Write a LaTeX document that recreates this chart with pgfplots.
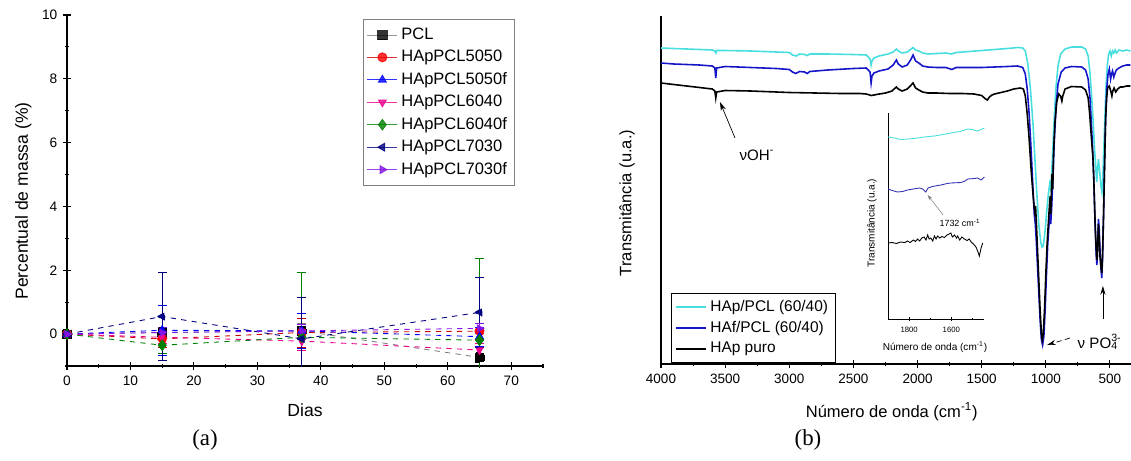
\documentclass[border=0pt]{standalone}
\usepackage{fontspec}
\setmainfont{Liberation Sans}
\newfontfamily\serifed{Liberation Serif}
\usepackage{pgfplots}
\pgfplotsset{compat=1.18}
\usetikzlibrary{arrows.meta}

\definecolor{cyanline}{RGB}{72,222,222}
\definecolor{blueline}{RGB}{20,20,200}
\definecolor{navyc}{RGB}{0,0,128}
\definecolor{violetc}{RGB}{130,20,230}
\definecolor{greenc}{RGB}{0,128,0}

\pgfplotsset{
  origin/.style={scale only axis, axis x line=bottom, axis y line=left,
    axis line style={-, line width=0.8pt}, tick align=center,
    major tick length=4pt, minor tick length=2.5pt,
    tick style={line width=0.6pt, black},
    /pgf/number format/assume math mode=true,
    /pgf/number format/1000 sep={}},
  errs/.style={error bars/.cd, y dir=both, y explicit,
    error mark=-,
    error bar style={line width=0.4pt, solid},
    error mark options={rotate=90, mark size=2.5pt, line width=0.4pt, solid}},
  ser/.style={#1, dashed, line width=0.5pt, mark size=2.6pt,
    mark options={solid, fill=#1, draw=#1}},
}

\begin{document}
\begin{tikzpicture}
\useasboundingbox (0,0) rectangle (22.62cm,9.2cm);

% ---------------- (a) ----------------
\begin{axis}[origin, at={(1.34cm,1.88cm)}, anchor=south west,
  width=9.52cm, height=7.02cm,
  xmin=0, xmax=75, ymin=-1, ymax=10,
  xtick={0,10,...,70}, minor xtick={5,15,...,75},
  ytick={0,2,...,10}, minor ytick={-1,1,...,9},
  tick label style={font=\fontsize{7.8}{9}\selectfont},
  xlabel={Dias}, ylabel={Percentual de massa (\%)},
  label style={font=\fontsize{10}{12}\selectfont},
  xlabel style={at={(axis description cs:0.5,-0.125)}, anchor=center},
  ylabel style={at={(axis description cs:-0.092,0.47)}, anchor=center},
  legend style={at={(0.622,0.989)}, anchor=north west, draw=gray,
    font=\fontsize{9.4}{11.6}\selectfont, row sep=0.6pt,
    inner xsep=2pt, inner ysep=3pt},
  legend cell align=left, legend image post style={solid, opacity=0.8},
]
\addplot[ser=gray, mark=square*, mark options={fill=black, draw=black}, errs]
  coordinates {(0,0) +- (0,0.08) (15,0.05) +- (0,0.15) (37,0.1) +- (0,0.25) (65,-0.73) +- (0,0.3)};
\addlegendentry{PCL}
\addplot[ser=red!80!black, mark=*, mark options={fill=red, draw=red}, errs]
  coordinates {(0,0) +- (0,0.05) (15,-0.15) +- (0,0.25) (37,0.05) +- (0,0.45) (65,0.09) +- (0,0.25)};
\addlegendentry{HApPCL5050}
\addplot[ser=blue, mark=triangle*, errs]
  coordinates {(0,0) +- (0,0.05) (15,0.12) +- (0,0.78) (37,0.1) +- (0,0.55) (65,-0.08) +- (0,0.3)};
\addlegendentry{HApPCL5050f}
\addplot[ser=magenta, mark=triangle*, mark options={rotate=180}, errs]
  coordinates {(0,0) +- (0,0.05) (15,-0.1) +- (0,0.2) (37,-0.22) +- (0,0.3) (65,-0.5) +- (0,0.2)};
\addlegendentry{HApPCL6040}
\addplot[ser=greenc, mark=diamond*, mark size=3pt, errs]
  coordinates {(0,0) +- (0,0.05) (15,-0.35) +- (0,0.25) (37,-0.1) +- (0,2.03) (65,-0.19) +- (0,2.55)};
\addlegendentry{HApPCL6040f}
\addplot[ser=navyc, mark=triangle*, mark options={rotate=90}, errs]
  coordinates {(0,0) +- (0,0.05) (15,0.55) +- (0,1.38) (37,-0.15) +- (0,1.3) (65,0.68) +- (0,1.1)};
\addlegendentry{HApPCL7030}
\addplot[ser=violetc, mark=triangle*, mark options={rotate=-90}, errs]
  coordinates {(0,0) +- (0,0.05) (15,0.05) +- (0,0.15) (37,0.1) +- (0,0.2) (65,0.18) +- (0,0.15)};
\addlegendentry{HApPCL7030f}
\end{axis}

% ---------------- (b) ----------------
\begin{axis}[origin, at={(13.22cm,1.92cm)}, anchor=south west,
  width=9.4cm, height=6.96cm,
  x dir=reverse, xmin=336, xmax=4000, ymin=0, ymax=348,
  xtick={500,1000,...,4000}, minor x tick num=1, ytick=\empty,
  tick label style={font=\fontsize{7.7}{9}\selectfont},
  xlabel={Número de onda (cm\textsuperscript{-1})}, ylabel={Transmitância (u.a.)},
  label style={font=\fontsize{9.4}{11}\selectfont},
  xlabel style={at={(axis description cs:0.491,-0.138)}, anchor=center},
  ylabel style={at={(axis description cs:-0.072,0.463)}, anchor=center},
  legend style={at={(0.021,0.204)}, anchor=north west, draw=black,
    font=\fontsize{8.8}{10.4}\selectfont, inner xsep=2pt, inner ysep=2pt},
  legend cell align=left, legend image post style={line width=1.2pt},
  clip=false,
]
\addplot[cyanline, line width=0.9pt] coordinates {
(4000,316)(3900,315.5)(3800,315)(3700,314.5)(3600,314)(3580,313)(3572,311)(3565,313.5)(3500,313.5)(3300,313)(3100,312)(3000,311.5)(2975,309)(2945,308)(2920,310)(2880,309.5)(2860,308.5)(2840,310)(2700,310)(2500,309.5)(2400,309)(2370,305)(2362,299)(2355,303)(2340,306)(2300,308)(2230,310)(2190,312)(2165,315)(2150,313)(2120,311)(2080,312)(2050,315)(2035,316.5)(2015,314)(1990,313)(1960,311)(1920,310)(1850,310.5)(1780,311)(1735,310)(1700,311.5)(1600,312.5)(1500,313.5)(1400,314.5)(1300,315.5)(1220,316.5)(1180,316)(1160,313)(1140,300)(1120,275)(1100,240)(1085,205)(1070,170)(1055,140)(1040,122)(1030,117)(1020,118)(1008,130)(995,150)(982,168)(970,180)(962,175)(955,190)(945,215)(935,245)(922,275)(905,298)(885,310)(850,315)(800,317)(720,317)(690,315)(670,308)(655,290)(640,262)(630,240)(620,215)(610,195)(603,182)(597,195)(590,205)(580,192)(570,178)(563,172)(556,185)(548,215)(540,245)(530,280)(520,300)(510,310)(500,313)(490,308)(480,313)(470,311)(460,314)(450,311)(430,314)(400,313)(370,314)(340,313)};
\addlegendentry{HAp/PCL (60/40)}
\addplot[blueline, line width=0.9pt] coordinates {
(4000,301)(3900,300)(3800,299.5)(3700,299)(3600,298)(3580,296)(3573,286)(3566,296)(3500,297.5)(3300,296.5)(3100,295.5)(3000,294.5)(2975,292)(2950,290.5)(2920,292.5)(2880,292)(2860,290.5)(2840,292.5)(2700,294)(2500,295.5)(2400,296)(2370,292)(2362,281)(2355,288)(2340,291)(2300,293)(2230,295)(2190,299)(2165,304)(2150,300)(2120,297)(2080,299)(2050,305)(2035,309)(2015,303)(1990,301)(1960,298)(1920,297)(1850,296.5)(1780,296.5)(1732,294.5)(1700,296.5)(1600,296.5)(1500,296.5)(1400,297)(1300,297.5)(1220,298)(1180,296.5)(1160,290)(1145,275)(1130,250)(1115,215)(1100,175)(1090,150)(1082,140)(1075,125)(1060,85)(1045,45)(1035,25)(1025,19)(1015,28)(1005,55)(995,90)(985,120)(975,140)(968,148)(962,140)(955,155)(945,185)(935,220)(920,258)(905,280)(880,292)(850,296)(800,297.5)(720,297)(690,294)(670,285)(655,265)(645,240)(635,215)(625,180)(615,135)(607,108)(602,99)(597,115)(590,145)(584,135)(577,112)(570,95)(564,86)(558,105)(550,150)(542,200)(534,245)(525,275)(515,290)(505,295)(495,285)(488,290)(480,293)(470,287)(460,291)(450,294)(430,296)(400,298)(370,299)(340,299)};
\addlegendentry{HAf/PCL (60/40)}
\addplot[black, line width=0.9pt] coordinates {
(4000,281)(3900,279.5)(3800,278)(3700,276.5)(3600,275)(3580,273)(3573,266)(3566,272)(3500,273.5)(3300,273)(3100,272)(3000,271.5)(2800,271)(2600,270.5)(2450,270.5)(2400,270)(2360,268.5)(2320,269.5)(2250,271)(2200,273)(2165,277)(2150,275)(2120,273)(2080,275)(2050,279)(2035,281)(2015,276)(1990,274)(1960,272)(1920,271)(1850,271)(1750,270.5)(1650,270.5)(1560,270)(1500,268.5)(1470,265)(1455,264)(1440,267)(1420,269)(1400,270)(1350,271.5)(1300,273)(1250,275)(1200,276)(1175,275)(1160,268)(1145,250)(1130,225)(1115,195)(1100,170)(1092,158)(1086,152)(1080,158)(1070,130)(1055,85)(1045,55)(1035,32)(1028,24)(1020,30)(1010,55)(1000,90)(990,120)(980,142)(972,158)(966,168)(962,150)(958,165)(952,190)(946,175)(940,210)(930,240)(915,262)(900,270)(885,268)(875,263)(868,268)(850,275)(800,277.5)(720,277)(690,274)(670,266)(658,250)(648,232)(638,215)(632,205)(626,185)(618,150)(610,122)(604,108)(600,104)(596,118)(590,140)(585,128)(578,108)(570,97)(564,91)(558,108)(550,148)(542,200)(534,245)(526,266)(518,276)(505,278)(492,272)(485,268)(478,273)(468,276)(455,272)(440,275)(420,277)(400,277)(370,278)(340,278)};
\addlegendentry{HAp puro}
% annotations
\draw[-{Stealth[length=5pt,width=3pt]}, line width=0.4pt] (axis cs:3423,226) -- (axis cs:3540,262);
\node[font=\fontsize{8.6}{10}\selectfont] at (axis cs:3252,209) {νOH\textsuperscript{-}};
\draw[-{Stealth[length=5pt,width=3pt]}, line width=0.4pt, densely dashed] (axis cs:812,26) -- (axis cs:990,19);
\node[anchor=west, font=\fontsize{8.6}{10}\selectfont] at (axis cs:800,22) {ν PO\rlap{\textsubscript{4}}\textsuperscript{3-}};
\draw[-{Stealth[length=5pt,width=3pt]}, line width=0.4pt] (axis cs:555,45) -- (axis cs:555,78);
\end{axis}

% ---------------- inset ----------------
\begin{axis}[origin, at={(17.76cm,2.82cm)}, anchor=south west,
  width=1.92cm, height=4.12cm,
  axis line style={-, line width=0.5pt},
  major tick length=2pt, minor tick length=1.5pt, tick style={line width=0.4pt},
  x dir=reverse, xmin=1445, xmax=1900, ymin=0, ymax=206,
  xtick={1800,1600}, minor xtick={1900,1700,1500}, ytick=\empty,
  tick label style={font=\fontsize{4.4}{5}\selectfont},
  xlabel={Número de onda (cm\textsuperscript{-1})}, ylabel={Transmitância (u.a.)},
  label style={font=\fontsize{5.7}{6.5}\selectfont},
  xlabel style={at={(axis description cs:0.49,-0.136)}, anchor=center},
  ylabel style={at={(axis description cs:-0.167,0.466)}, anchor=center},
  clip=false,
]
\addplot[cyanline, line width=0.5pt] coordinates {
(1900,182)(1870,181)(1840,179.5)(1800,180)(1760,181)(1729,182)(1680,183)(1640,184.5)(1602,186)(1560,187.5)(1522,190)(1500,189.5)(1475,188)(1460,189.5)(1443,191)};
\addplot[blueline!70!gray, line width=0.5pt] coordinates {
(1900,130)(1880,128.5)(1856,127)(1830,127.5)(1808,129)(1780,130)(1752,131)(1735,130)(1721,127)(1710,131)(1690,132.5)(1649,134)(1620,135.5)(1602,136)(1554,136.5)(1535,138)(1522,140)(1490,140.5)(1475,141)(1459,139)(1443,142)};
\addplot[black, line width=0.5pt] coordinates {
(1900,76)(1880,76.5)(1860,75.5)(1840,77)(1820,76.5)(1808,78)(1795,76.5)(1780,79)(1770,77.5)(1760,80)(1750,78)(1740,81)(1729,82)(1720,79)(1712,84)(1705,80)(1697,81)(1688,78)(1680,83)(1672,80)(1665,83)(1655,81)(1645,82.5)(1633,81.5)(1620,84)(1610,85)(1602,86)(1595,82)(1585,84)(1575,81)(1570,83)(1560,79)(1550,82)(1538,80)(1525,78.5)(1515,80)(1506,77)(1495,75)(1483,72)(1475,68)(1467,63)(1462,68)(1459,71)(1451,76)};
\draw[-{Stealth[length=3pt,width=2pt]}, line width=0.3pt, gray] (axis cs:1639,104) -- (axis cs:1712,124);
\node[font=\fontsize{5.1}{6}\selectfont] at (axis cs:1559,96) {1732 cm\textsuperscript{-1}};
\end{axis}

\node[font=\serifed\fontsize{13}{15}\selectfont] at (4.1cm,0.4cm) {(a)};
\node[font=\serifed\fontsize{13}{15}\selectfont] at (16.16cm,0.4cm) {(b)};
\end{tikzpicture}
\end{document}
